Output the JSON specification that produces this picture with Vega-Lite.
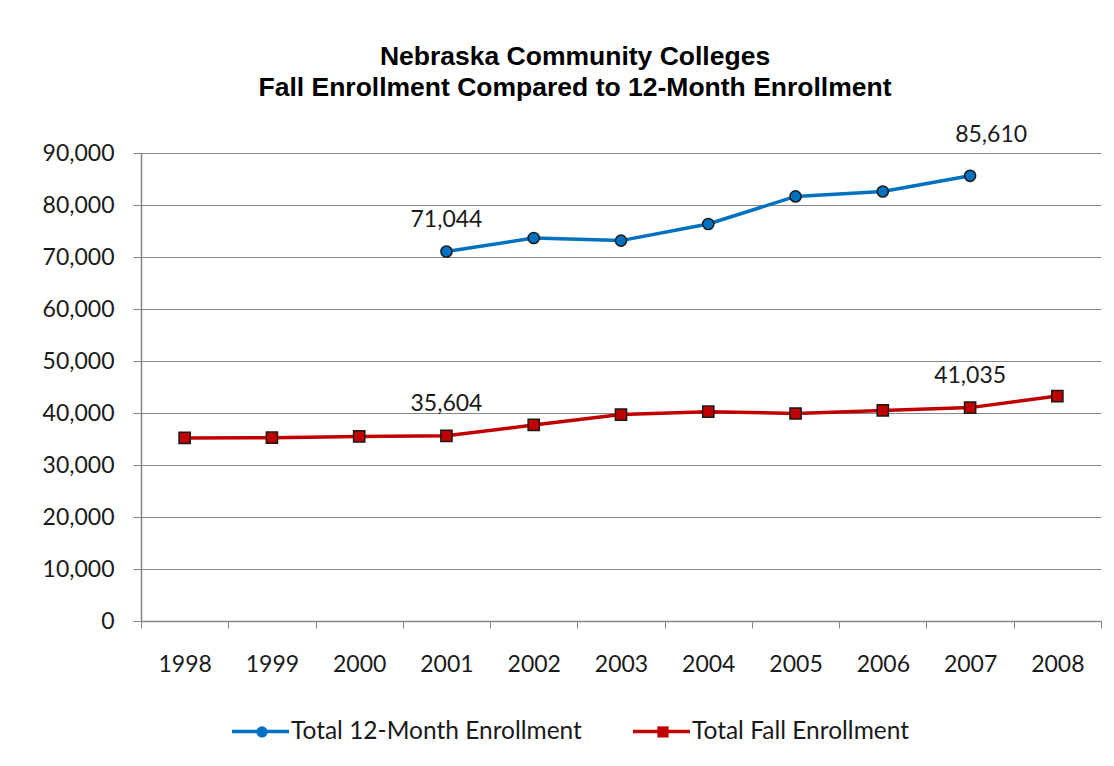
{
  "$schema": "https://vega.github.io/schema/vega-lite/v6.json",
  "width": 960,
  "height": 468,
  "autosize": "none",
  "padding": {"left": 141, "top": 153, "right": 13, "bottom": 145},
  "background": "white",
  "title": {
    "text": ["Nebraska Community Colleges", "Fall Enrollment Compared to 12-Month Enrollment"],
    "font": "Liberation Sans",
    "fontSize": 26.5,
    "fontWeight": "bold",
    "color": "#000000",
    "lineHeight": 31,
    "anchor": "middle",
    "frame": "group",
    "dx": -46,
    "baseline": "top",
    "offset": 22
  },
  "data": {
    "values": [
      {"year": "1998", "series": "Total Fall Enrollment", "value": 35200},
      {"year": "1999", "series": "Total Fall Enrollment", "value": 35250},
      {"year": "2000", "series": "Total Fall Enrollment", "value": 35500},
      {"year": "2001", "series": "Total Fall Enrollment", "value": 35604},
      {"year": "2002", "series": "Total Fall Enrollment", "value": 37700},
      {"year": "2003", "series": "Total Fall Enrollment", "value": 39700},
      {"year": "2004", "series": "Total Fall Enrollment", "value": 40250},
      {"year": "2005", "series": "Total Fall Enrollment", "value": 39900},
      {"year": "2006", "series": "Total Fall Enrollment", "value": 40500},
      {"year": "2007", "series": "Total Fall Enrollment", "value": 41035},
      {"year": "2008", "series": "Total Fall Enrollment", "value": 43250},
      {"year": "2001", "series": "Total 12-Month Enrollment", "value": 71044},
      {"year": "2002", "series": "Total 12-Month Enrollment", "value": 73650},
      {"year": "2003", "series": "Total 12-Month Enrollment", "value": 73150},
      {"year": "2004", "series": "Total 12-Month Enrollment", "value": 76350},
      {"year": "2005", "series": "Total 12-Month Enrollment", "value": 81650},
      {"year": "2006", "series": "Total 12-Month Enrollment", "value": 82600},
      {"year": "2007", "series": "Total 12-Month Enrollment", "value": 85610}
    ]
  },
  "encoding": {
    "x": {
      "field": "year",
      "type": "ordinal",
      "scale": {"type": "band", "paddingInner": 0, "paddingOuter": 0},
      "axis": {
        "title": null,
        "labelAngle": 0,
        "tickBand": "extent",
        "tickSize": 7,
        "tickColor": "#868686",
        "domainColor": "#868686",
        "domainWidth": 1.5,
        "labelFont": "Lato",
        "labelFontSize": 23,
        "labelColor": "#1a1a1a",
        "labelPadding": 25,
        "grid": false
      }
    },
    "y": {
      "field": "value",
      "type": "quantitative",
      "scale": {"domain": [0, 90000], "nice": false},
      "axis": {
        "title": null,
        "values": [0, 10000, 20000, 30000, 40000, 50000, 60000, 70000, 80000, 90000],
        "format": ",.0f",
        "grid": true,
        "gridColor": "#868686",
        "gridWidth": 1.2,
        "tickSize": 8,
        "tickColor": "#868686",
        "domainColor": "#868686",
        "domainWidth": 1.5,
        "labelFont": "Lato",
        "labelFontSize": 23,
        "labelColor": "#1a1a1a",
        "labelPadding": 19
      }
    }
  },
  "layer": [
    {
      "mark": {"type": "line", "strokeWidth": 3.5},
      "encoding": {
        "stroke": {
          "field": "series",
          "type": "nominal",
          "scale": {"domain": ["Total 12-Month Enrollment", "Total Fall Enrollment"], "range": ["#0070C0", "#C00000"]},
          "legend": {
            "orient": "none",
            "legendX": 89,
            "legendY": 548,
            "direction": "horizontal",
            "columns": 2,
            "title": null,
            "padding": 0,
            "symbolType": "stroke",
            "symbolSize": 3249,
            "symbolStrokeWidth": 3.5,
            "labelFont": "Lato",
            "labelFontSize": 24.5,
            "labelColor": "#1a1a1a",
            "labelOffset": 0,
            "labelLimit": 0,
            "columnPadding": 44
          }
        }
      }
    },
    {
      "mark": {"type": "point", "filled": true, "opacity": 1, "size": 125, "stroke": "#1a1a1a", "strokeWidth": 1.5},
      "encoding": {
        "fill": {
          "field": "series",
          "type": "nominal",
          "scale": {"range": ["#0070C0", "#C00000"]},
          "legend": {
            "orient": "none",
            "legendX": 114.5,
            "legendY": 572,
            "direction": "horizontal",
            "columns": 2,
            "title": null,
            "padding": 0,
            "symbolSize": 125,
            "symbolStrokeColor": "#1a1a1a",
            "symbolStrokeWidth": 1.5,
            "symbolOpacity": 1,
            "labelExpr": "''",
            "labelFontSize": 1,
            "labelOffset": 0,
            "columnPadding": 382
          }
        },
        "shape": {
          "field": "series",
          "type": "nominal",
          "scale": {"range": ["circle", "square"]},
          "legend": {
            "orient": "none",
            "legendX": 114.5,
            "legendY": 572,
            "direction": "horizontal",
            "columns": 2,
            "title": null,
            "padding": 0,
            "symbolSize": 125,
            "symbolStrokeColor": "#1a1a1a",
            "symbolStrokeWidth": 1.5,
            "symbolOpacity": 1,
            "labelExpr": "''",
            "labelFontSize": 1,
            "labelOffset": 0,
            "columnPadding": 382
          }
        }
      }
    },
    {
      "transform": [{"filter": "datum.year == '2001' || (datum.year == '2007' && datum.series == 'Total Fall Enrollment')"}],
      "mark": {"type": "text", "font": "Lato", "fontSize": 23, "color": "#1a1a1a", "baseline": "alphabetic", "dy": -25},
      "encoding": {"text": {"field": "value", "type": "quantitative", "format": ","}}
    },
    {
      "transform": [{"filter": "datum.year == '2007' && datum.series == 'Total 12-Month Enrollment'"}],
      "mark": {"type": "text", "font": "Lato", "fontSize": 23, "color": "#1a1a1a", "baseline": "alphabetic", "dy": -34, "dx": 21},
      "encoding": {"text": {"field": "value", "type": "quantitative", "format": ","}}
    }
  ],
  "config": {
    "view": {"stroke": null}
  }
}
